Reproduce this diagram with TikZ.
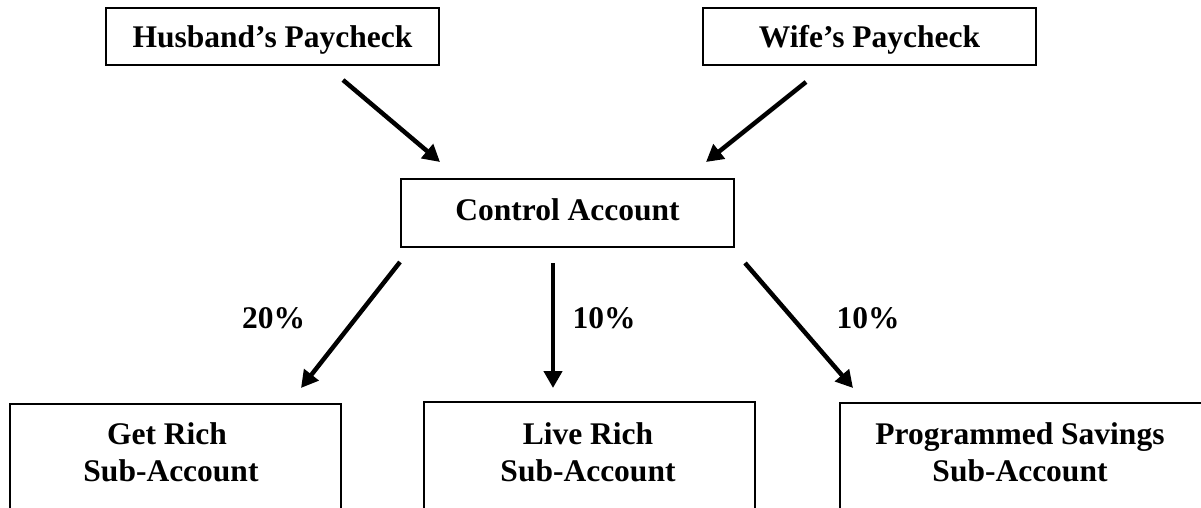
\documentclass[tikz,border=0pt]{standalone}
\usepackage{fontspec}
\setmainfont{Liberation Serif}
\usetikzlibrary{arrows.meta,calc}
\tikzset{
  x=1pt, y=-1pt,
  txt/.style={font=\fontsize{31.5}{37}\selectfont\bfseries, inner sep=0pt},
  topbox/.style={draw, line width=2pt, txt, minimum width=333pt, minimum height=57pt, text height=22pt, text depth=0pt},
  subbox/.style={draw, line width=2pt, anchor=north, minimum height=200pt, inner sep=0pt},
  subtxt/.style={txt, align=center, anchor=north},
  arr/.style={line width=4.5pt, -{Triangle[length=17pt,width=18pt]}},
  pct/.style={txt, anchor=base}
}
\begin{document}
\begin{tikzpicture}
\useasboundingbox (0,0) rectangle (1201,508);
\clip (0,0) rectangle (1201,508);
\fill[white] (0,0) rectangle (1201,508);

\node[topbox] (hus) at (272.5,36.5) {Husband’s Paycheck};
\node[topbox] (wife) at (869.5,36.5) {Wife’s Paycheck};
\node[topbox, minimum height=68pt, text depth=7pt] (ctrl) at (567.5,213) {Control Account};

\node[subbox, minimum width=331pt] (gr) at (175.5,403) {};
\node[subbox, minimum width=331pt] (lr) at (589.5,401) {};
\node[subbox, minimum width=365pt] (ps) at (1022.5,402) {};

\node[subtxt] (grt) at (171,422) {Get Rich\hspace*{8pt}\\Sub-Account};
\node[subtxt] (lrt) at (588,422) {Live Rich\\Sub-Account};
\node[subtxt] (pst) at (1020,422) {Programmed Savings\\Sub-Account};

\coordinate (a1s) at ($(hus.south)+(70.5,14)$);
\coordinate (a1e) at ($(ctrl.north)+(-127.5,-16)$);
\coordinate (a2s) at ($(wife.south)+(-63.5,16)$);
\coordinate (a2e) at ($(ctrl.north)+(138.5,-16)$);
\coordinate (a3s) at ($(ctrl.south)+(-167.5,14)$);
\coordinate (a3e) at ($(gr.north)+(125.5,-15)$);
\coordinate (a4s) at ($(ctrl.south)+(-14.5,15)$);
\coordinate (a4e) at ($(lr.north)+(-36.5,-13)$);
\coordinate (a5s) at ($(ctrl.south)+(177.5,15)$);
\coordinate (a5e) at ($(ps.north)+(-169.5,-14)$);

\draw[arr] (a1s) -- (a1e);
\draw[arr] (a2s) -- (a2e);
\draw[arr] (a3s) -- (a3e);
\draw[arr] (a4s) -- (a4e);
\draw[arr] (a5s) -- (a5e);

\node[pct] (p20) at (273.5,328) {20\%};
\node[pct] (p10a) at (604,328) {10\%};
\node[pct] (p10b) at (868,328) {10\%};
\end{tikzpicture}
\end{document}
